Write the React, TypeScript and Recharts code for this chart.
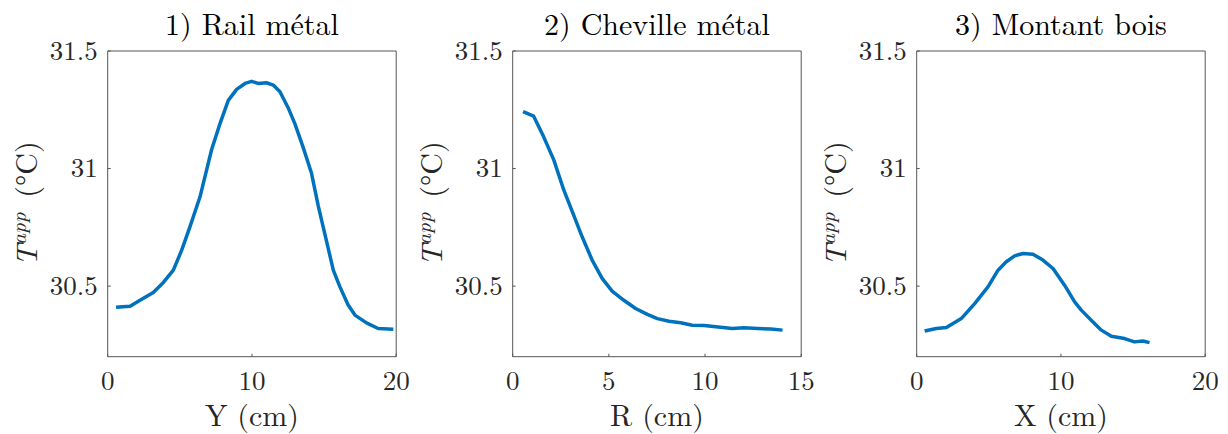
import React from 'react';
import { LineChart, Line, XAxis, YAxis } from 'recharts';

// ---- Data ----
const railX = [0.58, 1.55, 2.24, 3.16, 3.86, 4.55, 5.13, 5.7, 6.4, 7.2, 7.78, 8.36, 8.94, 9.52, 9.98, 10.44, 11.0, 11.48, 11.94, 12.5, 12.98, 13.55, 14.13, 14.6, 15.06, 15.64, 16.1, 16.67, 17.14, 17.94, 18.75, 19.8];
const railT = [30.41, 30.415, 30.44, 30.473, 30.516, 30.568, 30.653, 30.752, 30.88, 31.08, 31.19, 31.29, 31.337, 31.362, 31.371, 31.362, 31.365, 31.355, 31.327, 31.26, 31.19, 31.09, 30.98, 30.84, 30.72, 30.568, 30.497, 30.42, 30.377, 30.344, 30.32, 30.317];

const chevR = [0.54, 1.09, 1.61, 2.14, 2.66, 3.18, 3.61, 4.13, 4.65, 5.17, 5.78, 6.39, 7.0, 7.52, 8.13, 8.73, 9.34, 9.95, 10.56, 11.42, 12.03, 12.73, 13.42, 14.03];
const chevT = [31.242, 31.223, 31.135, 31.036, 30.908, 30.8, 30.71, 30.611, 30.533, 30.479, 30.44, 30.405, 30.38, 30.362, 30.351, 30.344, 30.334, 30.333, 30.327, 30.32, 30.323, 30.32, 30.318, 30.313];

const montX = [0.55, 1.36, 2.06, 3.09, 4.02, 4.94, 5.64, 6.21, 6.79, 7.37, 8.06, 8.75, 9.45, 10.25, 10.95, 11.41, 12.1, 12.8, 13.49, 14.41, 15.1, 15.68, 16.14];
const montT = [30.309, 30.32, 30.324, 30.362, 30.426, 30.497, 30.568, 30.604, 30.629, 30.639, 30.636, 30.611, 30.575, 30.504, 30.433, 30.398, 30.355, 30.313, 30.287, 30.277, 30.263, 30.267, 30.26];

const yTicks = [30.5, 31, 31.5];
const yDomain: [number, number] = [30.2, 31.5];
const xTicks20 = [0, 10, 20];
const xTicks15 = [0, 5, 10, 15];

const titles = ['1) Rail métal', '2) Cheville métal', '3) Montant bois'];
const xLabels = ['Y (cm)', 'R (cm)', 'X (cm)'];

// ---- Layout / style ----
const FONT = "'Latin Modern Roman', 'Liberation Serif', serif";
const AXIS_COLOR = '#555555';
const TEXT_COLOR = '#262626';
const LINE_COLOR = '#0072BD';
const CHART_W = 410;
const CHART_H = 434;
const PLOT_LEFT = 107.7;
const PLOT_W = 288.5;
const PLOT_TOP = 51;
const PLOT_BOTTOM = 356.7;
const YAXIS_W = 60;
const XAXIS_H = 60;
const TICK = -3;
const TICK_FS = 27;
const LABEL_FS = 30;

const textStyle = (size: number, color = TEXT_COLOR) => ({
  fontFamily: FONT,
  fontSize: size,
  fill: color,
});

const XTick = (props: any) => (
  <text x={props.x} y={props.y + 19.3} textAnchor="middle" style={textStyle(TICK_FS)}>
    {String(props.payload.value)}
  </text>
);

const YTick = (props: any) => (
  <text x={props.x} y={props.y + 8.7} textAnchor="end" style={textStyle(TICK_FS)}>
    {String(props.payload.value)}
  </text>
);

type PanelProps = {
  left: number;
  title: string;
  xLabel: string;
  xs: number[];
  ts: number[];
  xMax: number;
  xTicks: number[];
};

function Panel({ left, title, xLabel, xs, ts, xMax, xTicks }: PanelProps) {
  const data = xs.map((x, i) => ({ x, t: ts[i] }));
  const cx = PLOT_LEFT + PLOT_W / 2;
  const cy = (PLOT_TOP + PLOT_BOTTOM) / 2;
  const bx = PLOT_LEFT - 71;
  const stroke = { stroke: AXIS_COLOR, strokeWidth: 1 };
  return (
    <div style={{ position: 'absolute', left, top: 0, width: CHART_W, height: CHART_H }}>
      <LineChart
        width={CHART_W}
        height={CHART_H}
        data={data}
        margin={{
          top: PLOT_TOP - 1,
          left: PLOT_LEFT - YAXIS_W,
          right: CHART_W - PLOT_LEFT - PLOT_W - 1,
          bottom: CHART_H - PLOT_BOTTOM - XAXIS_H,
        }}
      >
        <XAxis
          xAxisId="b"
          dataKey="x"
          type="number"
          orientation="bottom"
          domain={[0, xMax]}
          ticks={xTicks}
          interval={0}
          allowDataOverflow
          height={XAXIS_H}
          tickSize={TICK}
          tickMargin={17}
          axisLine={stroke}
          tickLine={stroke}
          tick={XTick}
          label={() => (
            <text x={cx} y={426} textAnchor="middle" style={textStyle(LABEL_FS)}>
              {xLabel}
            </text>
          )}
        />
        <XAxis
          xAxisId="t"
          type="number"
          orientation="top"
          domain={[0, xMax]}
          ticks={xTicks}
          interval={0}
          allowDataOverflow
          height={1}
          tickSize={TICK}
          axisLine={stroke}
          tickLine={stroke}
          tick={false}
          label={() => (
            <text x={cx} y={35} textAnchor="middle" style={textStyle(LABEL_FS, '#000')}>
              {title}
            </text>
          )}
        />
        <YAxis
          yAxisId="l"
          type="number"
          orientation="left"
          domain={yDomain}
          ticks={yTicks}
          interval={0}
          allowDataOverflow
          width={YAXIS_W}
          tickSize={TICK}
          tickMargin={13}
          axisLine={stroke}
          tickLine={stroke}
          tick={YTick}
          label={() => (
            <text
              x={bx}
              y={cy}
              transform={`rotate(-90 ${bx} ${cy})`}
              textAnchor="middle"
              style={textStyle(LABEL_FS)}
            >
              <tspan style={{ fontStyle: 'italic' }}>T</tspan>
              <tspan style={{ fontStyle: 'italic', fontSize: 21 }} dy={-11}>app</tspan>
              <tspan dy={11}>{'\u00A0(°C)'}</tspan>
            </text>
          )}
        />
        <YAxis
          yAxisId="r"
          type="number"
          orientation="right"
          domain={yDomain}
          ticks={yTicks}
          interval={0}
          allowDataOverflow
          width={1}
          tickSize={TICK}
          axisLine={stroke}
          tickLine={stroke}
          tick={false}
        />
        <Line
          xAxisId="b"
          yAxisId="l"
          type="linear"
          dataKey="t"
          stroke={LINE_COLOR}
          strokeWidth={3.5}
          strokeLinejoin="round"
          dot={false}
          activeDot={false}
          isAnimationActive={false}
        />
      </LineChart>
    </div>
  );
}

export default function App() {
  return (
    <div style={{ position: 'absolute', left: 0, top: 0, width: 1228, height: 434, background: '#fff' }}>
      <Panel left={0} title={titles[0]} xLabel={xLabels[0]} xs={railX} ts={railT} xMax={20} xTicks={xTicks20} />
      <Panel left={404.6} title={titles[1]} xLabel={xLabels[1]} xs={chevR} ts={chevT} xMax={15} xTicks={xTicks15} />
      <Panel left={809} title={titles[2]} xLabel={xLabels[2]} xs={montX} ts={montT} xMax={20} xTicks={xTicks20} />
    </div>
  );
}
